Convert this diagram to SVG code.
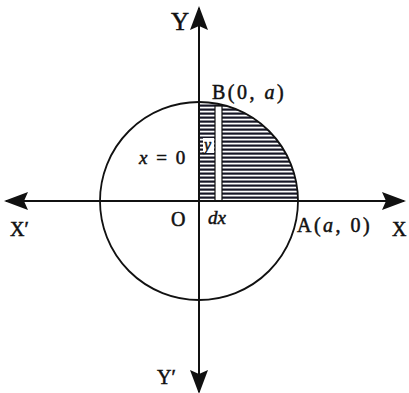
<svg xmlns="http://www.w3.org/2000/svg" width="409" height="393" viewBox="0 0 409 393">
<style>
.t{font-family:"Liberation Serif","Times New Roman",serif;fill:#111;stroke:#111;stroke-width:0.5;}
.i{font-style:italic;}
.ax{stroke:#111;stroke-width:2;fill:none;}
</style>
<defs>
<pattern id="hatch" patternUnits="userSpaceOnUse" width="8" height="4">
<rect width="8" height="4" fill="#fff"/>
<rect y="0.5" width="8" height="2.2" fill="#151525"/>
</pattern>
<marker id="ah" viewBox="0 0 24 20" refX="22" refY="10" markerWidth="24" markerHeight="20" markerUnits="userSpaceOnUse" orient="auto">
<path d="M0,1 L24,10 L0,19 L4,10 Z" fill="#111"/>
</marker>
</defs>
<rect width="409" height="393" fill="#fff"/>
<g id="region">
<path d="M199,201 L199,102 A99,99 0 0 1 298,201 Z" fill="url(#hatch)"/>
<rect x="215" y="106" width="7" height="95" fill="#fff" stroke="#111" stroke-width="1.2"/>
<rect x="203" y="138" width="11" height="15" fill="#fff"/>
</g>
<g id="circle">
<circle cx="199" cy="201" r="99" fill="none" stroke="#111" stroke-width="1.8"/>
</g>
<g id="connectors">
<line class="ax" x1="199" y1="380" x2="199" y2="8" marker-end="url(#ah)"/>
<line class="ax" x1="199" y1="30" x2="199" y2="392" marker-end="url(#ah)"/>
<line class="ax" x1="30" y1="201" x2="404" y2="201" marker-end="url(#ah)"/>
<line class="ax" x1="380" y1="201" x2="6" y2="201" marker-end="url(#ah)"/>
</g>
<g id="labels">
<text class="t" x="171" y="30" font-size="25">Y</text>
<text class="t" x="157" y="384" font-size="20">Y′</text>
<text class="t" x="10" y="236" font-size="20">X′</text>
<text class="t" x="392" y="236" font-size="20">X</text>
<text class="t" x="171" y="226" font-size="20">O</text>
<text class="t i" x="208" y="224" font-size="19">dx</text>
<text class="t" x="297" y="232" font-size="20" letter-spacing="2.5">A(<tspan class="i">a</tspan>, 0)</text>
<text class="t" x="212" y="99" font-size="20" letter-spacing="2.5">B(0, <tspan class="i">a</tspan>)</text>
<text class="t" x="139" y="164" font-size="19" letter-spacing="2"><tspan class="i">x</tspan> = 0</text>
<text class="t i" x="204" y="150" font-size="16">y</text>
</g>
</svg>
